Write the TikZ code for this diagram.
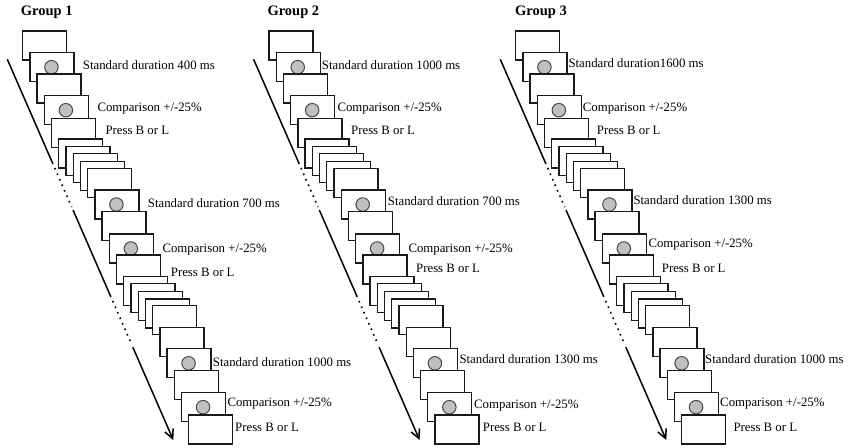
\documentclass[tikz,border=0pt]{standalone}
\usepackage{fontspec}
\setmainfont{Liberation Serif}
\usetikzlibrary{calc,arrows.meta}
\definecolor{dotgray}{HTML}{C0C0C0}
\definecolor{inkc}{HTML}{1A1A1A}
\tikzset{
  scr/.style={draw=inkc, line width=1.3pt, fill=white, minimum width=44pt, minimum height=29pt, inner sep=0pt, outer sep=0pt, anchor=north west},
  stim/.style={circle, draw=inkc!80, line width=1pt, fill=dotgray, minimum size=13.5pt, inner sep=0pt},
  lbl/.style={anchor=base west, inner sep=0pt, font=\fontsize{12.8}{14}\selectfont},
  ttl/.style={anchor=base west, inner sep=0pt, font=\fontsize{14.5}{16}\selectfont\bfseries},
  axisline/.style={draw=black, line width=1.5pt},
  dotline/.style={draw=black, line width=1.6pt, dash pattern=on 1.6pt off 4.4pt},
}
\begin{document}
\begin{tikzpicture}[x=1pt, y=-1pt]
\useasboundingbox (0,0) rectangle (853,447);
\foreach \g/\off in {1/0, 2/246.3, 3/493} {
  % screens
  \foreach \i/\t/\c in {1/31/0, 2/52.7/1, 3/74/0, 4/95.7/1, 5/118.7/0, 6/139/0, 7/146.3/0, 8/153.7/0, 9/161.2/0, 10/168.8/0, 11/190/1, 12/211.7/0, 13/234/1, 14/255/0, 15/276.7/0, 16/283.7/0, 17/291.3/0, 18/299/0, 19/305.5/0, 20/327.5/0, 21/348.8/1, 22/370.7/0, 23/392.7/1, 24/415/0} {
    \node[scr] (g\g b\i) at ({\off+22.7+7.22*(\i-1)}, \t) {};
    \ifnum\c=1
      \node[stim] (g\g c\i) at ($(g\g b\i.center)+(-0.5,0)$) {};
    \fi
  }
  % time arrow
  \coordinate (g\g s) at ({\off+7.3}, 59.3);
  \coordinate (g\g e) at ({\off+173.3}, 440);
  \draw[axisline] (g\g s) -- ($(g\g s)!0.275!(g\g e)$);
  \draw[dotline] ($(g\g s)!0.2855!(g\g e)$) -- ($(g\g s)!0.388!(g\g e)$);
  \draw[axisline] ($(g\g s)!0.396!(g\g e)$) -- ($(g\g s)!0.624!(g\g e)$);
  \draw[dotline] ($(g\g s)!0.635!(g\g e)$) -- ($(g\g s)!0.748!(g\g e)$);
  \draw[axisline, -{Straight Barb[length=9pt, width=9pt]}] ($(g\g s)!0.756!(g\g e)$) -- (g\g e);
}
% titles
\node[ttl] (t1) at (20.7, 15) {Group 1};
\node[ttl] (t2) at (267.3, 15) {Group 2};
\node[ttl] (t3) at (515, 15) {Group 3};
% group 1 labels
\node[lbl] (l1a) at (82.7, 69.6) {Standard duration 400 ms};
\node[lbl] (l1b) at (97.3, 111) {Comparison +/-25\%};
\node[lbl] (l1c) at (105.3, 134.3) {Press B or L};
\node[lbl] (l1d) at (147.7, 207) {Standard duration 700 ms};
\node[lbl] (l1e) at (162.3, 252.6) {Comparison +/-25\%};
\node[lbl] (l1f) at (170.7, 276) {Press B or L};
\node[lbl] (l1g) at (212.7, 366) {Standard duration 1000 ms};
\node[lbl] (l1h) at (227.3, 406) {Comparison +/-25\%};
\node[lbl] (l1i) at (235, 431) {Press B or L};
% group 2 labels
\node[lbl] (l2a) at (321.7, 69.5) {Standard duration 1000 ms};
\node[lbl] (l2b) at (337.3, 111) {Comparison +/-25\%};
\node[lbl] (l2c) at (351, 134.3) {Press B or L};
\node[lbl] (l2d) at (387.7, 205) {Standard duration 700 ms};
\node[lbl] (l2e) at (408.3, 252) {Comparison +/-25\%};
\node[lbl] (l2f) at (416, 272.6) {Press B or L};
\node[lbl] (l2g) at (459.3, 363.3) {Standard duration 1300 ms};
\node[lbl] (l2h) at (474, 408.6) {Comparison +/-25\%};
\node[lbl] (l2i) at (482.7, 431) {Press B or L};
% group 3 labels
\node[lbl] (l3a) at (568.3, 67) {Standard duration1600 ms};
\node[lbl] (l3b) at (582.7, 111) {Comparison +/-25\%};
\node[lbl] (l3c) at (596.7, 134.3) {Press B or L};
\node[lbl] (l3d) at (633.3, 204.5) {Standard duration 1300 ms};
\node[lbl] (l3e) at (648.3, 247.6) {Comparison +/-25\%};
\node[lbl] (l3f) at (661.7, 272.6) {Press B or L};
\node[lbl] (l3g) at (705, 363.3) {Standard duration 1000 ms};
\node[lbl] (l3h) at (720, 406) {Comparison +/-25\%};
\node[lbl] (l3i) at (733.3, 431.6) {Press B or L};
\end{tikzpicture}
\end{document}
